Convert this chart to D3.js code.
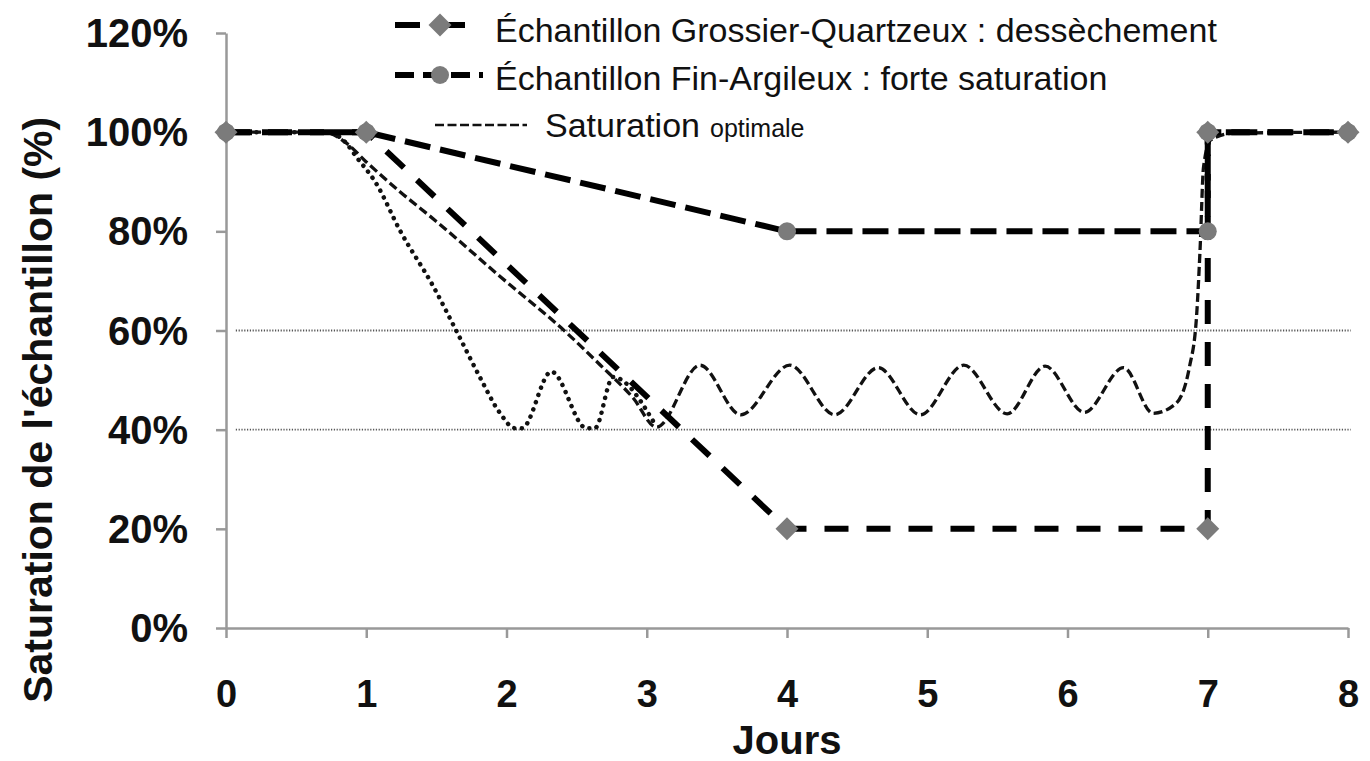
<!DOCTYPE html>
<html>
<head>
<meta charset="utf-8">
<script src="https://cdn.jsdelivr.net/npm/d3@7"></script>
<style>
  body { margin: 0; background: #fff; }
  svg text { font-family: "Liberation Sans", Arial, sans-serif; fill: #111; }
  .axis path, .axis line { stroke: #999; stroke-width: 2.5; }
  .axis text { font-weight: bold; }
</style>
</head>
<body>
<div id="chart"></div>
<script>
// Data (days, % saturation)
const xTicks = [0, 1, 2, 3, 4, 5, 6, 7, 8];
const yTicks = [0, 20, 40, 60, 80, 100, 120];

const grossierDays   = [0, 1, 4, 7, 7, 8];
const grossierValues = [100, 100, 20, 20, 100, 100];

const finDays   = [0, 1, 4, 7, 7, 8];
const finValues = [100, 100, 80, 80, 100, 100];

// saturation optimale band (thin dotted lines)
const optimalLevels = [40, 60];
const optimalSpan = [0.07, 8.02];

// thin dashed curve (decline then oscillation, back to 100 on day 7)
const waveDays = [0, 0.7, 0.85, 1.0, 1.24, 1.5, 1.95, 2.43, 2.67, 2.9, 3.07,
  3.38, 3.67, 4.02, 4.34, 4.65, 4.95, 5.26, 5.57, 5.84, 6.12, 6.4, 6.61,
  6.77, 6.87, 6.92, 6.945, 6.97, 7.02, 7.18, 8];
const waveValues = [100, 100, 98, 94, 88, 82, 71, 59.5, 53, 46.5, 40.5,
  53, 43, 53, 43, 52.5, 43, 53, 43.2, 52.8, 43.5, 52.5, 43.3,
  45.2, 52.7, 62.8, 76.2, 93, 98.4, 99.8, 100];

// dotted curve (fast decline, bounces on 40%)
const dotDays = [0, 0.72, 0.85, 0.93, 1.07, 1.24, 1.48, 1.65, 1.81, 1.95, 2.06, 2.11,
  2.32, 2.57, 2.63, 2.76, 3.05];
const dotValues = [100, 100, 98, 95, 89.7, 80.2, 68.8, 59.5, 50.6, 43.5, 40.3, 40.3,
  51.7, 40.3, 40.3, 50.6, 41.5];

const legendLabels = [
  "Échantillon Grossier-Quartzeux : dessèchement",
  "Échantillon Fin-Argileux : forte saturation",
  "Saturation"
];
const legendSmall = "optimale";
const xTitle = "Jours";
const yTitle = "Saturation de l'échantillon (%)";

// Chart dimensions
const dimensions = {
  width: 1370,
  height: 761,
  margin: { top: 33, right: 22, bottom: 133, left: 226 }
};
dimensions.boundedWidth = dimensions.width - dimensions.margin.left - dimensions.margin.right;
dimensions.boundedHeight = dimensions.height - dimensions.margin.top - dimensions.margin.bottom;

const wrapper = d3.select("#chart")
  .append("svg")
  .attr("width", dimensions.width)
  .attr("height", dimensions.height);

const bounds = wrapper.append("g")
  .attr("transform", `translate(${dimensions.margin.left},${dimensions.margin.top})`);

// Scales
const xScale = d3.scaleLinear()
  .domain([0, 8])
  .range([0, dimensions.boundedWidth]);

const yScale = d3.scaleLinear()
  .domain([0, 120])
  .range([dimensions.boundedHeight, 0]);

const zip = (xs, ys) => xs.map((x, i) => ({ x: x, y: ys[i] }));

const lineGen = d3.line()
  .x(d => xScale(d.x))
  .y(d => yScale(d.y));

const smoothGen = d3.line()
  .x(d => xScale(d.x))
  .y(d => yScale(d.y))
  .curve(d3.curveMonotoneX);

// Saturation optimale lines
bounds.selectAll(".optimal")
  .data(optimalLevels)
  .join("line")
    .attr("class", "optimal")
    .attr("x1", xScale(optimalSpan[0]))
    .attr("x2", xScale(optimalSpan[1]))
    .attr("y1", d => yScale(d))
    .attr("y2", d => yScale(d))
    .attr("stroke", "#555")
    .attr("stroke-width", 1.8)
    .attr("stroke-dasharray", "1.2,1.6");

// Axes
const yAxis = d3.axisLeft(yScale)
  .tickValues(yTicks)
  .tickFormat(d => d + "%")
  .tickSize(10)
  .tickSizeOuter(0)
  .tickPadding(28);

bounds.append("g")
  .attr("class", "axis y-axis")
  .call(yAxis)
  .selectAll("text")
    .style("font-size", "40px")
    .attr("dy", "0.34em");

const xAxis = d3.axisBottom(xScale)
  .tickValues(xTicks)
  .tickFormat(d3.format("d"))
  .tickSize(10)
  .tickSizeOuter(0)
  .tickPadding(42);

bounds.append("g")
  .attr("class", "axis x-axis")
  .attr("transform", `translate(0,${dimensions.boundedHeight})`)
  .call(xAxis)
  .selectAll("text")
    .style("font-size", "38px");

bounds.selectAll(".axis .domain").attr("stroke", "#999");

// Axis titles
wrapper.append("text")
  .text(xTitle)
  .attr("x", dimensions.margin.left + xScale(4))
  .attr("y", 754)
  .attr("text-anchor", "middle")
  .style("font-size", "40px")
  .style("font-weight", "bold");

wrapper.append("text")
  .text(yTitle)
  .attr("transform", `translate(52,${dimensions.margin.top + yScale(44)}) rotate(-90)`)
  .attr("text-anchor", "middle")
  .style("font-size", "41px")
  .style("font-weight", "bold");

// Dotted curve
bounds.append("path")
  .datum(zip(dotDays, dotValues))
  .attr("d", smoothGen)
  .attr("fill", "none")
  .attr("stroke", "#111")
  .attr("stroke-width", 4.5)
  .attr("stroke-linecap", "round")
  .attr("stroke-dasharray", "0.1,7.5");

// Thin dashed curve
bounds.append("path")
  .datum(zip(waveDays, waveValues))
  .attr("d", smoothGen)
  .attr("fill", "none")
  .attr("stroke", "#111")
  .attr("stroke-width", 3.3)
  .attr("stroke-dasharray", "9,4");

// Fin-Argileux line
bounds.append("path")
  .datum(zip(finDays, finValues))
  .attr("d", lineGen)
  .attr("fill", "none")
  .attr("stroke", "#000")
  .attr("stroke-width", 6)
  .attr("stroke-dasharray", "26,10");

// Grossier-Quartzeux line
bounds.append("path")
  .datum(zip(grossierDays, grossierValues))
  .attr("d", lineGen)
  .attr("fill", "none")
  .attr("stroke", "#000")
  .attr("stroke-width", 6)
  .attr("stroke-dasharray", "24,18");

// Markers
bounds.selectAll(".fin-mark")
  .data(zip(finDays, finValues))
  .join("circle")
    .attr("class", "fin-mark")
    .attr("cx", d => xScale(d.x))
    .attr("cy", d => yScale(d.y))
    .attr("r", 9)
    .attr("fill", "#7b7b7b");

const diamond = d3.symbol(d3.symbolSquare, 265);

bounds.selectAll(".gq-mark")
  .data(zip(grossierDays, grossierValues))
  .join("path")
    .attr("class", "gq-mark")
    .attr("d", diamond)
    .attr("transform", d => `translate(${xScale(d.x)},${yScale(d.y)}) rotate(45)`)
    .attr("fill", "#7b7b7b");

// Legend
const legend = wrapper.append("g");

legend.append("line")
  .attr("x1", 395).attr("x2", 470)
  .attr("y1", 25).attr("y2", 25)
  .attr("stroke", "#000").attr("stroke-width", 6)
  .attr("stroke-dasharray", "25,20");
legend.append("path")
  .attr("d", diamond)
  .attr("transform", "translate(440,25) rotate(45)")
  .attr("fill", "#7b7b7b");

legend.append("line")
  .attr("x1", 395).attr("x2", 483)
  .attr("y1", 75).attr("y2", 75)
  .attr("stroke", "#000").attr("stroke-width", 6)
  .attr("stroke-dasharray", "19,9");
legend.append("circle")
  .attr("cx", 440).attr("cy", 75).attr("r", 9)
  .attr("fill", "#7b7b7b");

legend.append("line")
  .attr("x1", 435).attr("x2", 527)
  .attr("y1", 125).attr("y2", 125)
  .attr("stroke", "#111").attr("stroke-width", 2.5)
  .attr("stroke-dasharray", "9,3.5");

legend.selectAll(".legend-label")
  .data(legendLabels)
  .join("text")
    .attr("class", "legend-label")
    .text(d => d)
    .attr("x", (d, i) => i === 2 ? 545 : 495)
    .attr("y", (d, i) => 42 + i * 47.5)
    .style("font-size", "34px");

legend.append("text")
  .text(legendSmall)
  .attr("x", 710)
  .attr("y", 137)
  .style("font-size", "25px");
</script>
</body>
</html>
